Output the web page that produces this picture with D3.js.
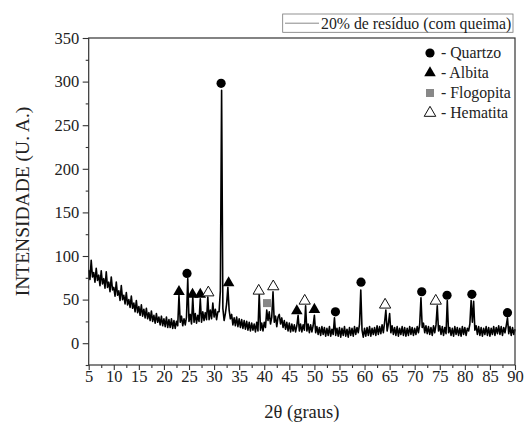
<!DOCTYPE html>
<html>
<head>
<meta charset="utf-8">
<script src="https://cdn.jsdelivr.net/npm/d3@7"></script>
<style>
  body { margin: 0; background: #fff; }
  svg text { font-family: "Liberation Serif", "Times New Roman", serif; fill: #222; }
</style>
</head>
<body>
<div id="chart"></div>
<script>
// XRD pattern, 2theta from 5 to 90 in 0.25 steps
const angleStart = 5, angleStep = 0.25;
const intensity = [
  84, 73, 95, 76,   81, 70, 86, 72,   78, 66, 83, 68,   74, 63, 82, 64,   // 5-8
  70, 59, 76, 61,   64, 54, 70, 55,   60, 49, 66, 50,   55, 45, 58, 44,   // 9-12
  50, 41, 54, 40,   46, 36, 49, 35,   42, 32, 44, 31,   39, 29, 40, 28,   // 13-16
  35, 26, 37, 25,   32, 23, 34, 24,   30, 21, 31, 20,   28, 19, 30, 18,   // 17-20
  27, 18, 28, 17,   26, 17, 25, 20,   55, 24, 31, 20,   28, 21, 30, 74,   // 21-24
  25, 33, 22, 53,   24, 34, 23, 32,   25, 51, 24, 36,   26, 35, 27, 53,   // 25-28
  27, 38, 28, 46,   30, 39, 27, 36,   36, 60, 290, 40,  26, 34, 45, 64,   // 29-32
  38, 28, 33, 21,   29, 20, 30, 19,   28, 18, 27, 17,   26, 16, 25, 15,   // 33-36
  24, 14, 23, 15,   22, 13, 24, 14,   57, 15, 23, 14,   24, 18, 38, 26,   // 37-40
  36, 22, 30, 59,   24, 31, 19, 30,   33, 22, 29, 18,   26, 16, 24, 14,   // 41-44
  23, 13, 22, 14,   21, 13, 20, 32,   14, 22, 13, 21,   15, 43, 14, 22,   // 45-48
  12, 21, 13, 20,   32, 12, 19, 10,   18, 9, 19, 10,    18, 8, 17, 9,     // 49-52
  19, 8, 16, 10,    29, 9, 17, 8,     18, 7, 17, 9,     19, 8, 16, 7,     // 53-56
  18, 9, 17, 8,     19, 10, 18, 12,   22, 61, 15, 7,    17, 8, 18, 9,     // 57-60
  19, 8, 17, 10,    18, 9, 20, 10,    19, 11, 21, 12,   24, 38, 14, 22,   // 61-64
  34, 12, 20, 10,   18, 9, 19, 8,     17, 10, 19, 9,    18, 8, 17, 9,     // 65-68
  19, 10, 18, 9,    17, 10, 19, 12,   22, 52, 18, 23,   12, 20, 11, 19,   // 69-72
  10, 18, 9, 20,    12, 21, 43, 14,   20, 10, 19, 9,    18, 11, 49, 12,   // 73-76
  18, 9, 17, 8,     19, 10, 18, 9,    17, 8, 19, 10,    18, 9, 17, 14,    // 77-80
  22, 49, 24, 48,   15, 20, 10, 19,   9, 18, 8, 17,     10, 19, 9, 18,    // 81-84
  8, 17, 10, 19,    9, 18, 11, 20,    10, 19, 9, 18,    12, 20, 29, 11,   // 85-88
  19, 9, 18, 10,    16                                                      // 89-90
];
const twoTheta = intensity.map((d, i) => angleStart + i * angleStep);

// phase markers [2theta, intensity]
const quartzo   = [[24.6, 80], [31.4, 298], [54.2, 36], [59.3, 70], [71.4, 59], [76.45, 55], [81.4, 56], [88.5, 35]];
const albita    = [[23.0, 59], [25.7, 56], [27.25, 56], [32.9, 69], [46.5, 37], [50.0, 38.6]];
const flogopita = [[40.55, 46]];
const hematita  = [[28.85, 58], [38.9, 60], [41.8, 65], [48.07, 48.5], [64.1, 44], [74.2, 48.5]];

const xTicks = d3.range(5, 91, 5);
const yTicks = d3.range(0, 351, 50);
const seriesName = "20% de resíduo (com queima)";
const phaseNames = ["Quartzo", "Albita", "Flogopita", "Hematita"];

const W = 524, H = 422;
const plot = {left: 88.7, right: 515, top: 38, bottom: 365};
const serif = '"Liberation Serif", "Times New Roman", serif';

const svg = d3.select("#chart").append("svg")
  .attr("width", W).attr("height", H);

const x = d3.scaleLinear().domain([5, 90]).range([plot.left, plot.right]);
const y = d3.scaleLinear().domain([-25, 350]).range([plot.bottom, plot.top]);

// data line
const line = d3.line().x((d, i) => x(twoTheta[i])).y(d => y(d));
svg.append("path")
  .datum(intensity)
  .attr("d", line)
  .attr("fill", "none")
  .attr("stroke", "#000")
  .attr("stroke-width", 1.6)
  .attr("stroke-linejoin", "round");

// frame
svg.append("rect")
  .attr("x", plot.left).attr("y", plot.top)
  .attr("width", plot.right - plot.left).attr("height", plot.bottom - plot.top)
  .attr("fill", "none").attr("stroke", "#333").attr("stroke-width", 1.2);

// axes
svg.append("g").attr("transform", `translate(0,${plot.bottom})`)
  .call(d3.axisBottom(x).tickValues(xTicks).tickSize(5).tickPadding(0).tickFormat(d3.format("d")));
svg.append("g").attr("transform", `translate(0,${plot.bottom})`)
  .call(d3.axisBottom(x).tickValues(d3.range(7.5, 90, 5)).tickSize(3).tickFormat(""));
svg.append("g").attr("transform", `translate(${plot.left},0)`)
  .call(d3.axisLeft(y).tickValues(yTicks).tickSize(6).tickPadding(3.5));
svg.append("g").attr("transform", `translate(${plot.left},0)`)
  .call(d3.axisLeft(y).tickValues(d3.range(-25, 350, 50)).tickSize(3).tickFormat(""));

svg.selectAll(".domain").remove();
svg.selectAll(".tick line").attr("stroke", "#333").attr("stroke-width", 1.1);
svg.selectAll(".tick text")
  .style("font-family", serif).style("font-size", "16.5px").style("fill", "#222");

// axis titles
svg.append("text")
  .attr("x", (plot.left + plot.right) / 2).attr("y", 418)
  .attr("text-anchor", "middle").style("font-size", "18.5px")
  .text("2θ (graus)");
svg.append("text")
  .attr("transform", `translate(29,${(plot.top + plot.bottom) / 2}) rotate(-90)`)
  .attr("text-anchor", "middle").style("font-size", "19.5px")
  .text("INTENSIDADE (U. A.)");

// phase markers
function triangle(g, data, fill, size) {
  g.selectAll(null).data(data).enter().append("path")
    .attr("d", d3.symbol().type(d3.symbolTriangle).size(size))
    .attr("transform", d => `translate(${x(d[0])},${y(d[1])})`)
    .attr("fill", fill)
    .attr("stroke", "#111").attr("stroke-width", fill === "#fff" ? 1 : 0);
}
const marks = svg.append("g");
marks.selectAll(".q").data(quartzo).enter().append("circle")
  .attr("cx", d => x(d[0])).attr("cy", d => y(d[1])).attr("r", 4.6).attr("fill", "#000");
triangle(marks, albita, "#000", 58);
triangle(marks, hematita, "#fff", 55);
marks.selectAll(".f").data(flogopita).enter().append("rect")
  .attr("x", d => x(d[0]) - 4).attr("y", d => y(d[1]) - 4)
  .attr("width", 8).attr("height", 8).attr("fill", "#888");

// series legend box
const lg = svg.append("g");
lg.append("rect").attr("x", 282.7).attr("y", 14).attr("width", 230.3).attr("height", 18.3)
  .attr("fill", "#fff").attr("stroke", "#777").attr("stroke-width", 0.8);
lg.append("line").attr("x1", 285).attr("x2", 319).attr("y1", 23.2).attr("y2", 23.2)
  .attr("stroke", "#888").attr("stroke-width", 1);
lg.append("text").attr("x", 321).attr("y", 28.5).style("font-size", "15.8px").text(seriesName);

// phase legend
const pl = svg.append("g");
phaseNames.forEach((name, i) => {
  const cy = 53 + i * 20;
  const sym = pl.append("g").attr("transform", `translate(430,${cy})`);
  if (i === 0) sym.append("circle").attr("r", 4.6).attr("fill", "#000");
  if (i === 1) sym.append("path").attr("d", d3.symbol().type(d3.symbolTriangle).size(58)).attr("fill", "#000");
  if (i === 2) sym.append("rect").attr("x", -4).attr("y", -4).attr("width", 8).attr("height", 8).attr("fill", "#888");
  if (i === 3) sym.append("path").attr("d", d3.symbol().type(d3.symbolTriangle).size(58))
    .attr("fill", "#fff").attr("stroke", "#111").attr("stroke-width", 1);
  pl.append("text").attr("x", 441).attr("y", cy + 5).style("font-size", "15.8px").text("- " + name);
});
</script>
</body>
</html>
